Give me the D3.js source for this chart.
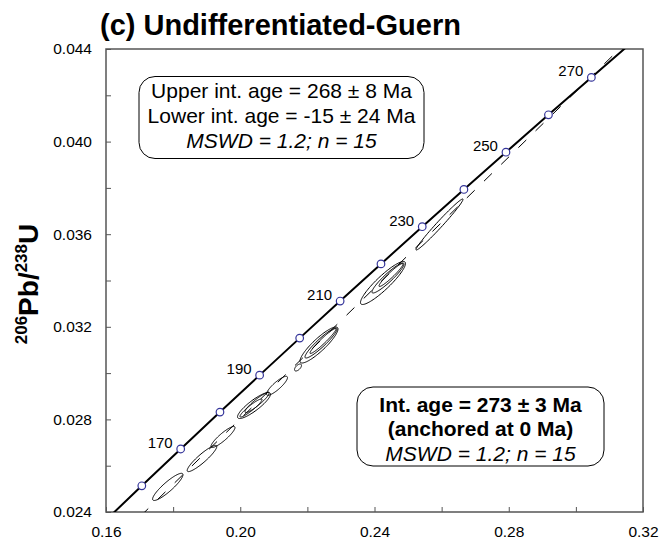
<!DOCTYPE html>
<html>
<head>
<meta charset="utf-8">
<script src="https://cdn.jsdelivr.net/npm/d3@7"></script>
<style>
  body { margin: 0; background: #fff; }
  text { font-family: Arial, "Liberation Sans", sans-serif; fill: #000; }
</style>
</head>
<body>
<svg id="chart" width="663" height="546"></svg>
<script>
// Axis ticks (207Pb/235U on x, 206Pb/238U on y)
const xTickValues = [0.16, 0.18, 0.20, 0.22, 0.24, 0.26, 0.28, 0.30, 0.32];
const xLabelValues = [0.16, 0.20, 0.24, 0.28, 0.32];
const yTickValues = [0.024, 0.026, 0.028, 0.030, 0.032, 0.034, 0.036, 0.038, 0.040, 0.042, 0.044];
const yLabelValues = [0.024, 0.028, 0.032, 0.036, 0.040, 0.044];

// Concordia nodes (age in Ma, 207Pb/235U, 206Pb/238U)
const concordiaAges = [150, 160, 170, 180, 190, 200, 210, 220, 230, 240, 250, 260, 270, 280];
const concordia207 = [0.159197, 0.170670, 0.182256, 0.193957, 0.205773, 0.217708, 0.229759,
                      0.241930, 0.254222, 0.266635, 0.279171, 0.291832, 0.304616, 0.317529];
const concordia206 = [0.023542, 0.025131, 0.026722, 0.028316, 0.029912, 0.031511, 0.033113,
                      0.034716, 0.036323, 0.037932, 0.039543, 0.041157, 0.042773, 0.044392];
const markerAges = [160, 170, 180, 190, 200, 210, 220, 230, 240, 250, 260, 270];
const labeledAges = [170, 190, 210, 230, 250, 270];

// Discordia intercepts: lower (-15 Ma) and upper (268 Ma), as [207/235, 206/238]
const discordiaLower = [-0.014664, -0.002324];
const discordiaUpper = [0.302047, 0.042450];

// Analyses: ratios, error half-widths and error correlation
const spot207 = [0.17841, 0.18860, 0.19486, 0.20320, 0.20410, 0.20499, 0.21095, 0.21721,
                 0.22346, 0.22406, 0.22466, 0.24253, 0.24402, 0.24492, 0.25937];
const spot206 = [0.025084, 0.026311, 0.027240, 0.028492, 0.028600, 0.028730, 0.029451, 0.030242,
                 0.031214, 0.031300, 0.031387, 0.033892, 0.034108, 0.034238, 0.036419];
const err207 = [0.004529, 0.004410, 0.003575, 0.003277, 0.004916, 0.003575, 0.003128, 0.001043,
                0.005661, 0.004767, 0.003873, 0.006704, 0.004767, 0.003575, 0.007002];
const err206 = [0.000587, 0.000566, 0.000454, 0.000389, 0.000562, 0.000432, 0.000410, 0.000151,
                0.000778, 0.000648, 0.000540, 0.000929, 0.000648, 0.000497, 0.001102];
const errRho = [0.896, 0.913, 0.896, 0.933, 0.872, 0.921, 0.867, 0.60,
                0.888, 0.931, 0.961, 0.908, 0.931, 0.954, 0.985];

const titleText = "(c) Undifferentiated-Guern";
const upperBoxLines = ["Upper int. age = 268 \u00b1 8 Ma", "Lower int. age = -15 \u00b1 24 Ma", "MSWD = 1.2; n = 15"];
const lowerBoxLines = ["Int. age = 273 \u00b1 3 Ma", "(anchored at 0 Ma)", "MSWD = 1.2; n = 15"];

const svg = d3.select("#chart");
const plot = { left: 106, right: 643, top: 49, bottom: 512 };

const x = d3.scaleLinear().domain([0.16, 0.32]).range([plot.left, plot.right]);
const y = d3.scaleLinear().domain([0.024, 0.044]).range([plot.bottom, plot.top]);

svg.append("rect").attr("width", 663).attr("height", 546).attr("fill", "#fff");

svg.append("defs").append("clipPath").attr("id", "plot-clip")
  .append("rect")
  .attr("x", plot.left).attr("y", plot.top)
  .attr("width", plot.right - plot.left).attr("height", plot.bottom - plot.top);

// Axes with inward ticks
const xAxis = d3.axisBottom(x).tickValues(xTickValues).tickSize(-5).tickPadding(14)
  .tickFormat(d => xLabelValues.some(v => Math.abs(v - d) < 1e-9) ? d3.format(".2f")(d) : "");
const yAxis = d3.axisLeft(y).tickValues(yTickValues).tickSize(-5).tickPadding(14)
  .tickFormat(d => yLabelValues.some(v => Math.abs(v - d) < 1e-9) ? d3.format(".3f")(d) : "");

const gx = svg.append("g").attr("transform", `translate(0,${plot.bottom})`).call(xAxis);
const gy = svg.append("g").attr("transform", `translate(${plot.left},0)`).call(yAxis);
[gx, gy].forEach(g => {
  g.select(".domain").remove();
  g.selectAll(".tick line").attr("stroke", "#555").attr("stroke-width", 1);
  g.selectAll(".tick text").attr("font-size", 15.5).attr("fill", "#000")
    .style("font-family", "Arial, 'Liberation Sans', sans-serif");
});

// Plot frame
svg.append("rect")
  .attr("x", plot.left).attr("y", plot.top)
  .attr("width", plot.right - plot.left).attr("height", plot.bottom - plot.top)
  .attr("fill", "none").attr("stroke", "#555").attr("stroke-width", 1.5);

const inner = svg.append("g").attr("clip-path", "url(#plot-clip)");

// Discordia (dashed), extended across the plot
const slope = (discordiaUpper[1] - discordiaLower[1]) / (discordiaUpper[0] - discordiaLower[0]);
const lineAt = xv => discordiaLower[1] + slope * (xv - discordiaLower[0]);
const xd = x.domain();
inner.append("line")
  .attr("x1", x(xd[0])).attr("y1", y(lineAt(xd[0])))
  .attr("x2", x(xd[1])).attr("y2", y(lineAt(xd[1])))
  .attr("stroke", "#000").attr("stroke-width", 1).attr("stroke-dasharray", "11,13");

// Error ellipses
const ellipsePath = i => {
  const pts = [];
  const k = Math.sqrt(1 - errRho[i] * errRho[i]);
  for (let s = 0; s <= 96; s++) {
    const t = (s / 96) * 2 * Math.PI;
    const ex = spot207[i] + err207[i] * Math.cos(t);
    const ey = spot206[i] + err206[i] * (errRho[i] * Math.cos(t) + k * Math.sin(t));
    pts.push([x(ex), y(ey)]);
  }
  return d3.line().curve(d3.curveLinearClosed)(pts);
};
inner.selectAll("path.ellipse")
  .data(d3.range(spot207.length))
  .join("path")
  .attr("class", "ellipse")
  .attr("d", ellipsePath)
  .attr("fill", "none").attr("stroke", "#000").attr("stroke-width", 1);

// Concordia curve
const concordiaPts = concordiaAges.map((a, i) => [concordia207[i], concordia206[i]]);
inner.append("path")
  .attr("d", d3.line().x(d => x(d[0])).y(d => y(d[1])).curve(d3.curveMonotoneX)(concordiaPts))
  .attr("fill", "none").attr("stroke", "#000").attr("stroke-width", 2);

// Age markers
const markerIdx = markerAges.map(a => concordiaAges.indexOf(a));
inner.selectAll("circle.age")
  .data(markerIdx)
  .join("circle")
  .attr("class", "age")
  .attr("cx", i => x(concordia207[i])).attr("cy", i => y(concordia206[i]))
  .attr("r", 3.8)
  .attr("fill", "#fff").attr("stroke", "#34349a").attr("stroke-width", 1.2);

svg.selectAll("text.age")
  .data(labeledAges.map(a => concordiaAges.indexOf(a)))
  .join("text")
  .attr("class", "age")
  .attr("x", i => x(concordia207[i]) - 8)
  .attr("y", i => y(concordia206[i]) - 1)
  .attr("text-anchor", "end")
  .attr("font-size", 15)
  .text(i => concordiaAges[i]);

// Title
svg.append("text")
  .attr("x", 100).attr("y", 35)
  .attr("font-size", 29).attr("font-weight", "bold")
  .text(titleText);

// Y-axis title: 206Pb/238U
const yt = svg.append("text")
  .attr("transform", "translate(38,284) rotate(-90)")
  .attr("text-anchor", "middle")
  .attr("font-weight", "bold")
  .attr("font-size", 28);
yt.append("tspan").attr("font-size", 17).attr("dy", -11).text("206");
yt.append("tspan").attr("dy", 11).text("Pb/");
yt.append("tspan").attr("font-size", 17).attr("dy", -11).text("238");
yt.append("tspan").attr("dy", 11).text("U");

// Annotation boxes
function textBox(bx, by, bw, bh, lines, baselines, styles) {
  svg.append("rect")
    .attr("x", bx).attr("y", by).attr("width", bw).attr("height", bh)
    .attr("rx", 16).attr("ry", 16)
    .attr("fill", "#fff").attr("stroke", "#000").attr("stroke-width", 1);
  lines.forEach((line, i) => {
    svg.append("text")
      .attr("x", bx + bw / 2).attr("y", baselines[i])
      .attr("text-anchor", "middle")
      .attr("font-size", 21)
      .attr("font-weight", styles[i] === "bold" ? "bold" : "normal")
      .attr("font-style", styles[i] === "italic" ? "italic" : "normal")
      .text(line);
  });
}
textBox(139, 76.5, 285, 82, upperBoxLines, [98, 123, 148], ["normal", "normal", "italic"]);
textBox(357, 387, 247, 79, lowerBoxLines, [411.5, 436, 460.5], ["bold", "bold", "italic"]);
</script>
</body>
</html>
